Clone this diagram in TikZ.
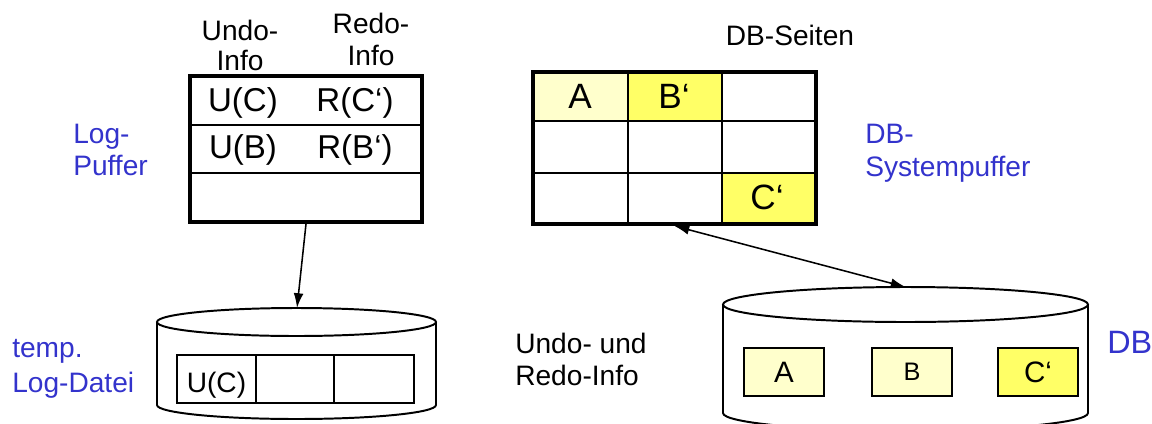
\documentclass[tikz,border=0pt]{standalone}
\usepackage{fontspec}
\setmainfont{Liberation Sans}
\usetikzlibrary{positioning, arrows.meta}
\definecolor{hgelb}{HTML}{FFFFCC}
\definecolor{dgelb}{HTML}{FFFF66}
\definecolor{blau}{HTML}{3333CC}

\begin{document}
\begin{tikzpicture}[x=0.025cm, y=-0.025cm,
  lbl/.style={inner sep=0pt, anchor=base, font=\fontsize{20}{24}\selectfont},
  blu/.style={lbl, text=blau, anchor=base west},
  eintrag/.style={inner sep=0pt, anchor=base, font=\fontsize{23.5}{26}\selectfont},
  kasten/.style={draw, line width=1.4pt, inner sep=0pt, minimum width=2cm, minimum height=1.2cm},
  duenn/.style={line width=1.4pt},
  pfeil/.style={line width=1.1pt, -{Latex[length=10.5pt, width=7pt]}},
  doppelpfeil/.style={line width=1.1pt, {Latex[length=10.5pt, width=7pt]}-{Latex[length=10.5pt, width=7pt]}}]
\useasboundingbox (0,0) rectangle (1152,423);
\clip (0,0) rectangle (1152,423);

% Log-Puffer
\draw[duenn] (190,125) -- (422,125);
\draw[duenn] (190,173) -- (422,173);
\node[draw, line width=2.8pt, inner sep=0pt, minimum width=5.8cm, minimum height=3.65cm] (logpuf) at (306,149) {};
\node[lbl] (undo1) at (240,40) {Undo-};
\node[lbl] (undo2) at (240,70) {Info};
\node[lbl] (redo1) at (371,33) {Redo-};
\node[lbl] (redo2) at (371,65) {Info};
\node[eintrag] (uc) at (243,111) {U(C)};
\node[eintrag] (rc) at (355,111) {R(C‘)};
\node[eintrag] (ub) at (243,158) {U(B)};
\node[eintrag] (rb) at (355,158) {R(B‘)};
\node[blu] (lp1) at (73,143) {Log-};
\node[blu] (lp2) at (73,175) {Puffer};

% DB-Systempuffer
\fill[hgelb] (533,72) rectangle (628,121);
\fill[dgelb] (628,72) rectangle (722,121);
\fill[dgelb] (722,173) rectangle (816,224);
\draw[duenn] (628,72) -- (628,224);
\draw[duenn] (722,72) -- (722,224);
\draw[duenn] (533,121) -- (816,121);
\draw[duenn] (533,173) -- (816,173);
\node[draw, line width=2.8pt, inner sep=0pt, minimum width=7.075cm, minimum height=3.8cm] (dbpuf) at (674.5,148) {};
\node[eintrag, font=\fontsize{25}{28}\selectfont] (sa) at (580,108) {A};
\node[eintrag, font=\fontsize{25}{28}\selectfont] (sb) at (674,108) {B‘};
\node[eintrag, font=\fontsize{25}{28}\selectfont] (sc) at (767,209) {C‘};
\node[lbl] (seiten) at (790,45) {DB-Seiten};
\node[blu] (sp1) at (865,143) {DB-};
\node[blu] (sp2) at (865,176) {Systempuffer};

% temp. Log-Datei
\draw[duenn] (157,322) -- (157,405) arc[start angle=180, end angle=0, x radius=139.5, y radius=14] -- (436,322);
\draw[duenn] (296.5,322) ellipse[x radius=139.5, y radius=14];
\coordinate (logtop) at (297,308);
\draw[duenn] (177,355) rectangle (414,403);
\draw[duenn] (256,355) -- (256,403);
\draw[duenn] (334,355) -- (334,403);
\node[lbl] (luc) at (216.5,392) {U(C)};
\node[blu] (ld1) at (12,357) {temp.};
\node[blu] (ld2) at (12,392) {Log-Datei};

\node[lbl, anchor=base west] (ur1) at (515,353) {Undo- und};
\node[lbl, anchor=base west] (ur2) at (515,385) {Redo-Info};

% DB
\draw[duenn] (723,304.5) -- (723,413) arc[start angle=180, end angle=0, x radius=182.5, y radius=17.5] -- (1088,304.5);
\draw[duenn] (905.5,304.5) ellipse[x radius=182.5, y radius=17.5];
\coordinate (dbtop) at (905.5,287);
\node[kasten, fill=hgelb, font=\fontsize{21}{24}\selectfont] (da) at (784,372) {A};
\node[kasten, fill=hgelb, font=\fontsize{18}{22}\selectfont] (db) at (912,372) {B};
\node[kasten, fill=dgelb, font=\fontsize{21}{24}\selectfont] (dc) at (1038,372) {C‘};
\node[blu, font=\fontsize{23}{26}\selectfont] (dbl) at (1107,353) {DB};

\draw[pfeil] (logpuf.south) -- (logtop);
\draw[doppelpfeil] (dbpuf.south) -- (dbtop);
\end{tikzpicture}
\end{document}
